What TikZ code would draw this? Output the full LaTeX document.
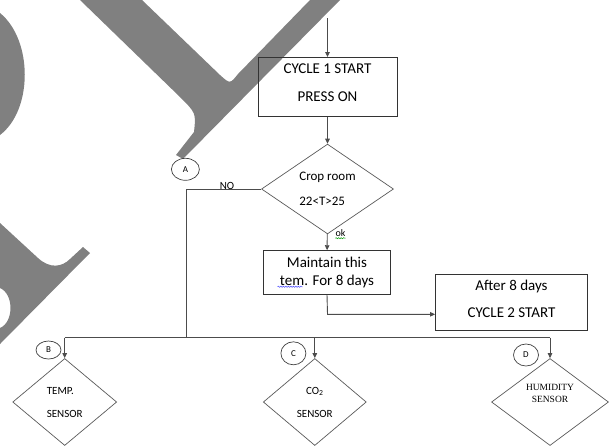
\documentclass[tikz,border=0pt]{standalone}
\usepackage{fontspec}
\setmainfont{Carlito}
\newfontfamily\humfont{Liberation Serif}
\usetikzlibrary{arrows.meta, positioning, shapes.geometric, decorations.pathmorphing}

\begin{document}
\begin{tikzpicture}[
  x=1pt, y=-1pt,
  box/.style={rectangle, draw=black!80, line width=0.9pt, align=center, inner sep=0pt},
  test/.style={diamond, draw=black!65, line width=0.7pt, inner sep=0pt},
  tag/.style={ellipse, draw=black!75, line width=0.7pt, inner sep=0pt, font=\fontsize{9}{9}\selectfont},
  line/.style={draw=black!70, line width=0.9pt},
  edge/.style={line, -{Triangle[length=5pt, width=4.5pt]}},
  squiggle/.style={decorate, decoration={snake, amplitude=0.6pt, segment length=2.5pt}, line width=0.5pt}
]
\useasboundingbox (0,0) rectangle (609,445);

% watermark
\fill[gray] (80,0) -- (180,97) .. controls (196,113) .. (194,132) -- (176,155) -- (183,159)
  -- (340,0) -- (310,0) -- (238,74) .. controls (230,84) .. (220,75) -- (142,0) -- cycle;
\fill[gray] (0,13) .. controls (33,40) and (33,110) .. (0,135) -- cycle;
\fill[gray] (0,223) -- (38,258) .. controls (50,269) and (62,267) .. (70,259) -- (83,247)
  -- (90,253) -- (0,344) -- (0,328) .. controls (14,322) and (14,294) .. (0,288) -- cycle;

% first cycle
\coordinate (in) at (327.5,18);
\node[box, minimum width=139pt, minimum height=59pt, text depth=8pt, font=\fontsize{15}{28}\selectfont] (cyc1) at (327.5,87) {CYCLE 1 START\\PRESS ON};
\node[test, minimum width=132pt, minimum height=85pt, align=left, font=\fontsize{13}{25}\selectfont] (crop) at (327.5,189) {Crop room\\22<T>25};
\node[tag, minimum width=28pt, minimum height=22pt] (a) at (185.4,169.3) {A};
\node[font=\fontsize{11}{11}\selectfont, inner sep=0pt] (no) at (227,186) {NO};
\node[font=\fontsize{10}{10}\selectfont, inner sep=0pt] (ok) at (340.5,233) {ok};
\node[box, minimum width=127pt, minimum height=43.6pt, font=\fontsize{15}{18.3}\selectfont] (keep) at (327,272.5) {Maintain this\\tem. For 8 days};
\node[box, minimum width=152pt, minimum height=56pt, text depth=6pt, font=\fontsize{15}{27}\selectfont] (cyc2) at (511.5,302) {After 8 days\\CYCLE 2 START};

% sensors
\node[test, minimum width=104pt, minimum height=87pt, align=left, font=\fontsize{11}{23}\selectfont] (temp) at (64.7,402) {TEMP.\\SENSOR};
\node[test, minimum width=103pt, minimum height=87pt, align=center, font=\fontsize{11}{23}\selectfont] (co2) at (314.8,402) {CO\textsubscript{2}\\SENSOR};
\node[test, minimum width=117pt, minimum height=87pt,
  label={[yshift=9pt, align=center, font=\humfont\fontsize{9.5}{12}\selectfont]center:HUMIDITY\\SENSOR}] (hum) at (550,402) {};
\node[tag, minimum width=25pt, minimum height=18pt] (b) at (48.5,350) {B};
\node[tag, minimum width=25pt, minimum height=23pt] (c) at (293.4,353.3) {C};
\node[tag, minimum width=25pt, minimum height=22pt] (d) at (526,355) {D};

\draw[edge] (in) -- (cyc1);
\draw[edge] (cyc1) -- (crop);
\draw[edge] (crop) -- (keep);
\coordinate (turn) at (327.5,314.3);
\draw[edge] (keep.south) -- (turn) -- (turn -| cyc2.west);
\coordinate (join) at (186.5,337.7);
\draw[line] (crop.west) -| (join);
\draw[line] (temp.north |- join) -- (hum.north |- join);
\foreach \s in {temp, co2, hum}
  \draw[edge] (\s.north |- join) -- (\s.north);

% spelling marks
\draw[squiggle, green!60!black] ([yshift=-1.5pt]ok.south west) -- ([yshift=-1.5pt]ok.south east);
\draw[squiggle, blue!70] ([shift={(14.5pt,8pt)}]keep.south west) -- ([shift={(39.5pt,8pt)}]keep.south west);
\end{tikzpicture}
\end{document}
